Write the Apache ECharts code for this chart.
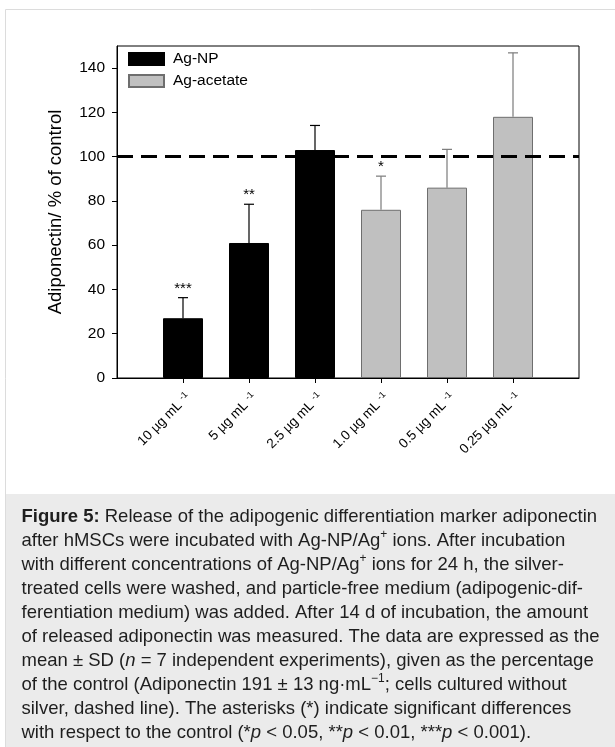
<!DOCTYPE html>
<html>
<head>
<meta charset="utf-8">
<script src="https://cdn.jsdelivr.net/npm/echarts@6/dist/echarts.min.js"></script>
<style>
html,body{margin:0;padding:0;background:#fff;}
#chart{width:615px;height:747px;}
</style>
</head>
<body>
<div id="chart"></div>
<script>
// ---- data ----
const categories = ['10', '5', '2.5', '1.0', '0.5', '0.25'];
const agNP = [27, 61, 103, null, null, null];
const agAcetate = [null, null, null, 76, 86, 118];
const sdValues = [9.3, 17.5, 11.1, 15.2, 17.3, 28.9];
const significance = ['***', '**', '', '*', '', ''];
const controlLevel = 100;
const yTicks = [0, 20, 40, 60, 80, 100, 120, 140];
const captionLines = [
  '{b|Figure 5:} Release of the adipogenic differentiation marker adiponectin',
  'after hMSCs were incubated with Ag-NP/Ag{sup|+} ions. After incubation',
  'with different concentrations of Ag-NP/Ag{sup|+} ions for 24 h, the silver-',
  'treated cells were washed, and particle-free medium (adipogenic-dif-',
  'ferentiation medium) was added. After 14 d of incubation, the amount',
  'of released adiponectin was measured. The data are expressed as the',
  'mean \u00b1 SD ({i|n} = 7 independent experiments), given as the percentage',
  'of the control (Adiponectin 191 \u00b1 13 ng\u00b7mL{sup|\u22121}; cells cultured without',
  'silver, dashed line). The asterisks (*) indicate significant differences',
  'with respect to the control (*{i|p} < 0.05, **{i|p} < 0.01, ***{i|p} < 0.001).'
];

// ---- build ----
const FONT = "'Liberation Sans', Arial, sans-serif";
const CAP = 18.5;
const xCats = [''].concat(categories, ['']);
const pad = arr => ['-'].concat(arr.map(v => v == null ? '-' : v), ['-']);
const means = categories.map((c, i) => agNP[i] != null ? agNP[i] : agAcetate[i]);
const errData = categories.map((c, i) => [i + 1, means[i], sdValues[i]]);

const chart = echarts.init(document.getElementById('chart'), null, {renderer: 'canvas'});
const option = {
  backgroundColor: '#fff',
  animation: false,
  textStyle: {fontFamily: FONT},
  grid: {left: 117, right: 36, top: 46, bottom: 369, show: true, borderColor: '#000', borderWidth: 1, backgroundColor: 'transparent'},
  legend: {
    left: 128, top: 51, orient: 'vertical', itemWidth: 35, itemHeight: 12, itemGap: 6, padding: 0,
    icon: 'rect',
    textStyle: {fontSize: 15.5, color: '#000', fontFamily: FONT, lineHeight: 15, padding: [0, 0, 0, 4]},
    data: ['Ag-NP', 'Ag-acetate']
  },
  xAxis: {
    type: 'category', data: xCats, boundaryGap: false,
    axisLine: {lineStyle: {color: '#000', width: 1}},
    axisTick: {length: 5, lineStyle: {color: '#000'}, interval: (idx) => idx > 0 && idx < xCats.length - 1},
    splitLine: {show: false},
    axisLabel: {
      rotate: 45, margin: 12, interval: 0, color: '#000', fontFamily: FONT, verticalAlign: 'top',
      formatter: v => v ? '{a|' + v + ' \u00b5g mL }{s|-1}' : '',
      rich: {
        a: {fontSize: 13.5, lineHeight: 15, fontFamily: FONT, color: '#000'},
        s: {fontSize: 9, lineHeight: 9, verticalAlign: 'top', fontFamily: FONT, color: '#000'}
      }
    }
  },
  yAxis: {
    type: 'value', min: 0, max: 150, interval: 20,
    name: 'Adiponectin/ % of control', nameLocation: 'middle', nameGap: 52,
    nameTextStyle: {fontSize: 18.5, color: '#000', fontFamily: FONT},
    axisLine: {show: true, lineStyle: {color: '#000'}},
    axisTick: {show: true, length: 5, lineStyle: {color: '#000'}, customValues: yTicks},
    axisLabel: {fontSize: 15.5, color: '#000', margin: 12, customValues: yTicks,
      formatter: v => (v > 140 ? '' : String(v))},
    splitLine: {show: false}
  },
  series: [
    {
      name: 'Ag-NP', type: 'bar', data: pad(agNP), barWidth: 40, barGap: '-100%',
      itemStyle: {color: '#000', borderColor: '#000', borderWidth: 1},
      z: 2,
      markLine: {
        silent: true, symbol: ['none', 'none'], label: {show: false}, z: 10,
        lineStyle: {color: '#000', width: 3, type: [16, 8]},
        data: [{yAxis: controlLevel}]
      }
    },
    {
      name: 'Ag-acetate', type: 'bar', data: pad(agAcetate), barWidth: 40, barGap: '-100%',
      itemStyle: {color: '#c0c0c0', borderColor: '#6e6e6e', borderWidth: 1},
      z: 2
    },
    {
      type: 'custom', z: 5, silent: true,
      data: errData,
      renderItem: function (params, api) {
        const i = params.dataIndex;
        const x = api.value(0), m = api.value(1), s = api.value(2);
        const base = api.coord([x, m]);
        const top = api.coord([x, m + s]);
        const col = agNP[i] != null ? '#000' : '#7a7a7a';
        const children = [
          {type: 'line', shape: {x1: base[0], y1: base[1], x2: top[0], y2: top[1]}, style: {stroke: col, lineWidth: 1.2}},
          {type: 'line', shape: {x1: top[0] - 5, y1: top[1], x2: top[0] + 5, y2: top[1]}, style: {stroke: col, lineWidth: 1.2}}
        ];
        if (significance[i]) {
          children.push({type: 'text', x: top[0], y: top[1] - 9,
            style: {text: significance[i], fill: '#000', font: '15px ' + FONT, align: 'center', verticalAlign: 'middle'}});
        }
        return {type: 'group', children: children};
      }
    }
  ],
  graphic: [
    {type: 'rect', silent: true, z: -10, shape: {x: 5.5, y: 9.5, width: 620, height: 750}, style: {fill: 'none', stroke: '#dcdcdc', lineWidth: 1}},
    {type: 'rect', silent: true, z: -5, shape: {x: 6, y: 494, width: 620, height: 260}, style: {fill: '#ebebeb'}},
    {type: 'text', silent: true, z: 1, x: 21.5, y: 505,
      style: {
        text: captionLines.join('\n'),
        font: CAP + 'px ' + FONT, fill: '#1e1e1e', lineHeight: 24,
        rich: {
          b: {fontWeight: 'bold', fontSize: CAP, fontFamily: FONT, lineHeight: 24, fill: '#1e1e1e'},
          i: {fontStyle: 'italic', fontSize: CAP, fontFamily: FONT, lineHeight: 24, fill: '#1e1e1e'},
          sup: {fontSize: 12, fontFamily: FONT, lineHeight: 14, verticalAlign: 'top', fill: '#1e1e1e'}
        }
      }
    }
  ]
};
chart.setOption(option);
</script>
</body>
</html>
